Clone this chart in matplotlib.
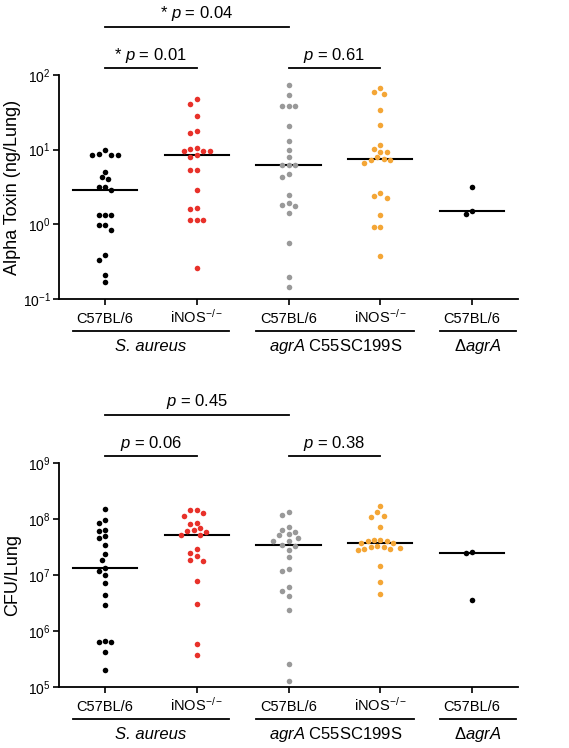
"""Alpha toxin và CFU trong phổi: scatter dạng swarm + đường median."""
import numpy as np
import matplotlib

matplotlib.use("Agg")
import matplotlib.pyplot as plt
import matplotlib.transforms as mtransforms

plt.rcParams["font.family"] = ["Liberation Sans", "DejaVu Sans"]
plt.rcParams["mathtext.fontset"] = "custom"
plt.rcParams["mathtext.rm"] = "Liberation Sans"
plt.rcParams["mathtext.it"] = "Liberation Sans:italic"

# ---- dữ liệu ----
strain_labels = ["C57BL/6", "iNOS$^{-/-}$", "C57BL/6", "iNOS$^{-/-}$", "C57BL/6"]
group_colors = ["black", "#e8312a", "#999999", "#f4a636", "black"]

alpha_wt_sa = [10, 8.6, 8.6, 8.6, 8.8, 5.1, 4.3, 4.0, 3.2, 3.2, 2.85, 1.33, 1.33,
               1.33, 0.98, 0.98, 0.84, 0.385, 0.33, 0.21, 0.167]
alpha_inos_sa = [47.7, 40.5, 28.2, 18, 16.7, 10.6, 10.2, 9.5, 9.5, 9.5, 8.6, 8.06,
                 5.3, 5.3, 2.88, 1.6, 1.67, 1.13, 1.13, 1.13, 0.26]
alpha_wt_mut = [74, 53.5, 38.5, 38.5, 38.5, 20.7, 13.2, 10, 8.0, 6.2, 6.2, 6.2,
                4.7, 4.26, 2.47, 1.95, 1.82, 1.74, 1.4, 0.56, 0.20, 0.145]
alpha_inos_mut = [67, 60, 56, 34, 21.6, 11.5, 10.2, 9.4, 9.2, 7.9, 7.5, 7.2, 7.2,
                  6.7, 2.63, 2.4, 2.28, 1.35, 0.91, 0.91, 0.377]
alpha_wt_dagr = [3.2, 1.49, 1.37]

cfu_wt_sa = [1.51e8, 9.5e7, 8.6e7, 6.35e7, 6.0e7, 4.9e7, 4.57e7, 3.5e7, 2.33e7,
             1.82e7, 1.31e7, 1.2e7, 9.8e6, 7.2e6, 4.4e6, 2.9e6, 6.6e5, 6.3e5,
             6.3e5, 4.2e5, 2.0e5]
cfu_inos_sa = [1.45e8, 1.43e8, 1.28e8, 1.15e8, 8.6e7, 8.0e7, 6.8e7, 6.3e7, 6.2e7,
               5.85e7, 5.15e7, 5.1e7, 2.94e7, 2.5e7, 2.14e7, 1.82e7, 1.75e7,
               7.9e6, 3.0e6, 5.9e5, 3.8e5]
cfu_wt_mut = [1.35e8, 1.16e8, 7.2e7, 6.4e7, 5.8e7, 5.4e7, 5.1e7, 4.6e7, 4.1e7,
              4.1e7, 3.5e7, 3.3e7, 2.75e7, 2.1e7, 1.27e7, 1.16e7, 6.1e6, 5.2e6,
              4.3e6, 2.4e6, 2.6e5, 1.3e5]
cfu_inos_mut = [1.71e8, 1.32e8, 1.12e8, 1.07e8, 7.1e7, 4.3e7, 4.2e7, 4.1e7, 4.1e7,
                3.7e7, 3.7e7, 3.33e7, 3.15e7, 3.15e7, 3.0e7, 2.95e7, 2.9e7,
                2.75e7, 1.44e7, 7.4e6, 4.5e6]
cfu_wt_dagr = [2.56e7, 2.45e7, 3.6e6]

alpha_pvals = ["* $p$ = 0.01", "$p$ = 0.61", "* $p$ = 0.04"]
cfu_pvals = ["$p$ = 0.06", "$p$ = 0.38", "$p$ = 0.45"]


def _swarm(ax, x0, values, step=3.2, min_dist=6.3):
    """Xếp điểm kiểu beeswarm (tính theo pixel), trả về toạ độ x."""
    vals = np.asarray(values, dtype=float)
    ys = ax.transData.transform(np.column_stack([np.zeros(len(vals)), vals]))[:, 1]
    px_unit = ax.transData.transform((1, 1))[0] - ax.transData.transform((0, 1))[0]
    cands = [0.0]
    for n in range(1, 30):
        cands += [-n * step, n * step]
    placed, offs = [], np.zeros(len(vals))
    for i in np.argsort(-ys):
        for c in cands:
            if all((c - px) ** 2 + (ys[i] - py) ** 2 >= min_dist ** 2 for px, py in placed):
                offs[i] = c
                placed.append((c, ys[i]))
                break
    return x0 + offs / px_unit


def _panel(fig, rect, groups, ylim, yticks, ylabel, pvals):
    ax = fig.add_axes(rect)
    ax.set_yscale("log")
    ax.set_xlim(-0.5, 4.5)
    ax.set_ylim(*ylim)
    for side in ("top", "right"):
        ax.spines[side].set_visible(False)
    for side in ("left", "bottom"):
        ax.spines[side].set_linewidth(1.3)

    ax.set_yticks(yticks)
    ax.set_yticklabels([f"$10^{{{int(np.log10(t))}}}$" for t in yticks], fontsize=10)
    ax.yaxis.set_minor_locator(matplotlib.ticker.NullLocator())
    ax.set_xticks(range(5))
    ax.set_xticklabels([])
    ax.tick_params(axis="both", length=4, width=1.2, pad=2)

    # nhãn trục y đặt theo toạ độ figure để không bị cắt
    box = ax.get_position()
    fig.text(13 / 569, box.y0 + box.height / 2, ylabel, rotation=90,
             ha="center", va="center", fontsize=13)

    trans = mtransforms.blended_transform_factory(ax.transData, ax.transAxes)
    for i, lab in enumerate(strain_labels):
        ax.text(i, -0.107, lab, transform=trans, ha="center", va="baseline",
                fontsize=10.5)

    for i, (vals, col) in enumerate(zip(groups, group_colors)):
        xs = _swarm(ax, i, vals)
        ax.scatter(xs, vals, s=16, color=col, linewidths=0, zorder=3)
        med = np.median(vals)
        ax.plot([i - 0.35, i + 0.35], [med, med], color="black", lw=1.5, zorder=2)

    # nhãn nhóm bên dưới trục x
    under = [(-0.35, 1.35, "S. aureus", "italic"),
             (1.65, 3.37, "$agrA$ C55SC199S", "normal"),
             (3.65, 4.48, "Δ$agrA$", "normal")]
    for x1, x2, txt, style in under:
        ax.plot([x1, x2], [-0.143, -0.143], color="black", lw=1.3,
                transform=trans, clip_on=False)
        ax.text((x1 + x2) / 2, -0.212, txt, transform=trans, ha="center",
                va="center", fontsize=12, fontstyle=style)

    # các thanh so sánh phía trên
    brackets = [(0, 1, 1.031, pvals[0]), (2, 3, 1.031, pvals[1]), (0, 2, 1.215, pvals[2])]
    for x1, x2, yb, txt in brackets:
        ax.plot([x1, x2], [yb, yb], color="black", lw=1.3, transform=trans, clip_on=False)
        ax.text((x1 + x2) / 2, yb + 0.058, txt, transform=trans, ha="center",
                va="center", fontsize=12)
    return ax


def main():
    fig = plt.figure(figsize=(5.69, 7.48), dpi=100)
    left, width, height = 59 / 569, 459 / 569, 224 / 748
    _panel(fig, [left, 1 - 299 / 748, width, height],
           [alpha_wt_sa, alpha_inos_sa, alpha_wt_mut, alpha_inos_mut, alpha_wt_dagr],
           (0.1, 100), [0.1, 1, 10, 100], "Alpha Toxin (ng/Lung)", alpha_pvals)
    _panel(fig, [left, 1 - 687 / 748, width, height],
           [cfu_wt_sa, cfu_inos_sa, cfu_wt_mut, cfu_inos_mut, cfu_wt_dagr],
           (1e5, 1e9), [1e5, 1e6, 1e7, 1e8, 1e9], "CFU/Lung", cfu_pvals)
    fig.savefig("out.png", dpi=100)
    plt.close(fig)


if __name__ == "__main__":
    main()
